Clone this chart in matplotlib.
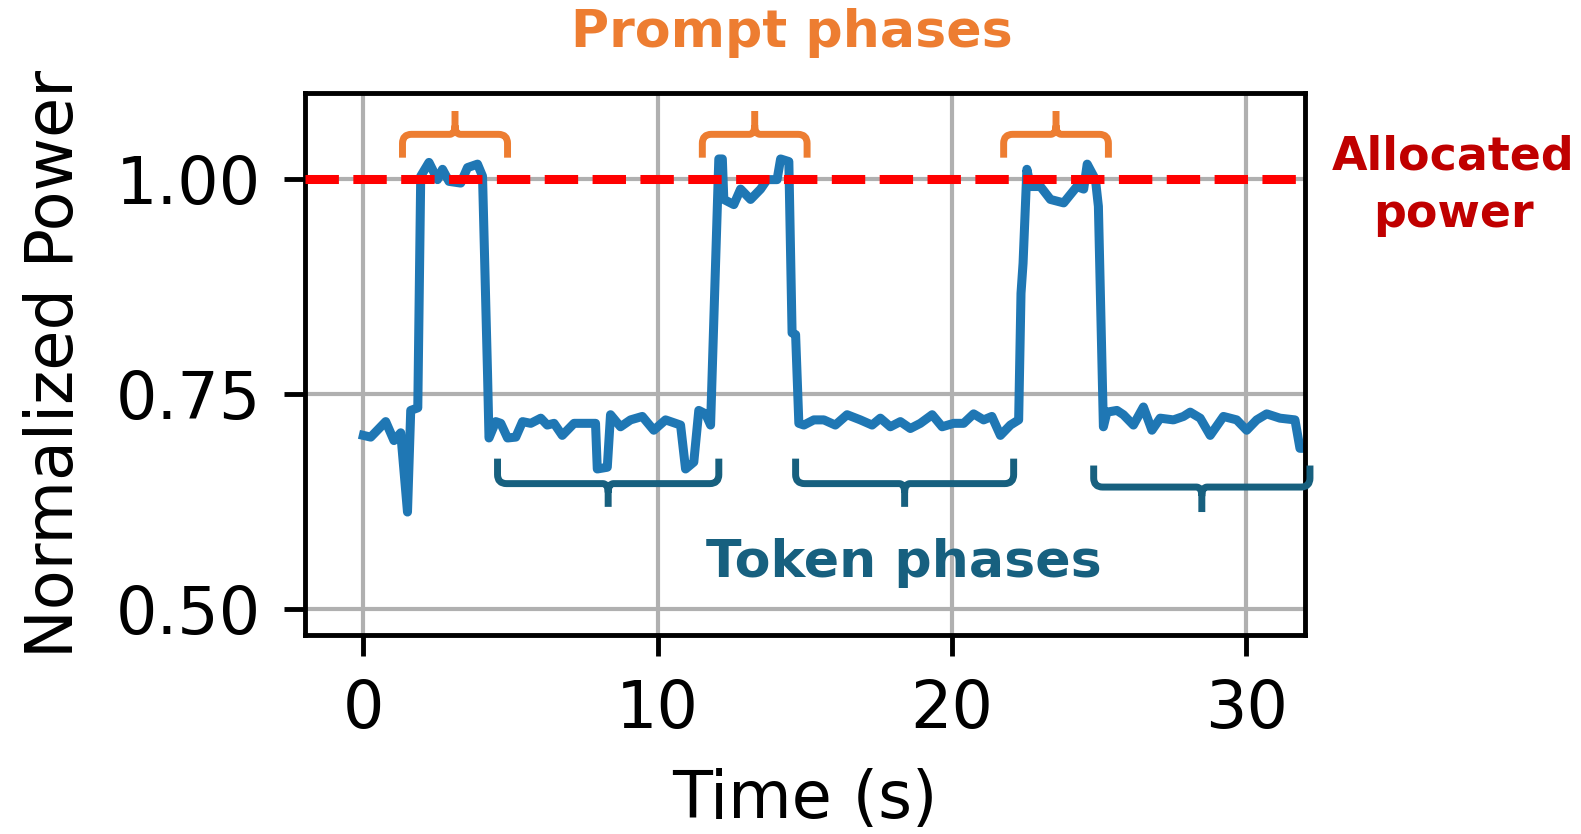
import matplotlib.pyplot as plt
from matplotlib.path import Path
from matplotlib.patches import PathPatch

# power trace
time_s = [0, 0.25, 0.76, 1.04, 1.27, 1.50, 1.61, 1.85, 1.95, 2.23, 2.52, 2.69, 2.91,
          3.31, 3.54, 3.88, 4.05, 4.22, 4.27, 4.50, 4.67, 4.90, 5.18, 5.41, 5.69,
          6.03, 6.25, 6.48, 6.76, 7.16, 7.89, 7.95, 8.29, 8.40, 8.74, 9.08, 9.48,
          9.87, 10.27, 10.78, 10.95, 11.23, 11.40, 11.63, 11.80, 12.08, 12.20,
          12.25, 12.59, 12.82, 13.16, 13.50, 13.72, 14.06, 14.18, 14.46, 14.57,
          14.69, 14.80, 14.97, 15.31, 15.65, 16.04, 16.44, 16.89, 17.29, 17.57,
          17.91, 18.25, 18.59, 18.93, 19.33, 19.67, 20.06, 20.40, 20.74, 21.08,
          21.36, 21.65, 21.99, 22.27, 22.35, 22.42, 22.55, 22.67, 23.01, 23.35,
          23.80, 24.25, 24.48, 24.60, 24.88, 24.98, 25.15, 25.27, 25.61, 25.83,
          26.17, 26.51, 26.80, 27.08, 27.53, 27.87, 28.10, 28.44, 28.78, 29.23,
          29.68, 30.02, 30.36, 30.70, 31.15, 31.66, 31.83, 32.0]
power = [0.702, 0.700, 0.718, 0.696, 0.705, 0.613, 0.731, 0.734, 1.003, 1.019, 0.999, 1.011, 0.997,
         0.995, 1.013, 1.017, 1.003, 0.774, 0.699, 0.718, 0.716, 0.699, 0.700, 0.718, 0.716,
         0.722, 0.714, 0.716, 0.702, 0.716, 0.716, 0.663, 0.665, 0.726, 0.712, 0.720, 0.724,
         0.708, 0.720, 0.714, 0.663, 0.671, 0.731, 0.727, 0.714, 1.023, 1.023,
         0.976, 0.970, 0.988, 0.976, 0.988, 0.999, 0.999, 1.023, 1.020, 0.821,
         0.819, 0.716, 0.714, 0.720, 0.720, 0.714, 0.726, 0.720, 0.714, 0.722,
         0.712, 0.718, 0.710, 0.716, 0.726, 0.712, 0.716, 0.716, 0.727, 0.720,
         0.724, 0.702, 0.714, 0.720, 0.867, 0.902, 1.011, 0.991, 0.991, 0.976,
         0.972, 0.991, 0.988, 1.017, 0.999, 0.968, 0.712, 0.729, 0.731, 0.726,
         0.714, 0.735, 0.708, 0.722, 0.720, 0.724, 0.729, 0.722, 0.702, 0.724,
         0.720, 0.708, 0.720, 0.727, 0.722, 0.720, 0.687, 0.687]

allocated = 1.0
x_ticks = [0, 10, 20, 30]
y_ticks = [0.50, 0.75, 1.00]

# brace spans (start, end) in seconds
prompt_spans = [(1.33, 4.90), (11.52, 15.08), (21.76, 25.32)]
token_spans = [(4.56, 12.08), (14.69, 22.10), (24.82, 32.17)]

orange = '#ED7D31'
teal = '#17607F'
dark_red = '#C00000'


def draw_brace(ax, x0, x1, y_tip, y_line, y_nib, color):
    rx = 9 / 29.45
    ry = 9 / 858.7 * (1 if y_line > y_tip else -1)
    xc = (x0 + x1) / 2
    sy = 1 if y_nib > y_line else -1
    verts = [(x0, y_tip), (x0, y_line - ry), (x0, y_line), (x0 + rx, y_line),
             (xc - rx * 0.6, y_line), (xc, y_line), (xc, y_line + sy * abs(ry)),
             (xc, y_nib),
             (xc, y_line + sy * abs(ry)), (xc, y_line), (xc + rx * 0.6, y_line),
             (x1 - rx, y_line), (x1, y_line), (x1, y_line - ry), (x1, y_tip)]
    codes = [Path.MOVETO, Path.LINETO, Path.CURVE3, Path.CURVE3,
             Path.LINETO, Path.CURVE3, Path.CURVE3, Path.LINETO,
             Path.MOVETO, Path.CURVE3, Path.CURVE3,
             Path.LINETO, Path.CURVE3, Path.CURVE3, Path.LINETO]
    patch = PathPatch(Path(verts, codes), fill=False, edgecolor=color, lw=5,
                      capstyle='butt', joinstyle='round', clip_on=False, zorder=5)
    ax.add_patch(patch)


fig = plt.figure(figsize=(15.81, 8.34), dpi=100)
ax = fig.add_axes([0.1926, 0.2384, 0.6328, 0.6505])

ax.plot(time_s, power, color='#1f77b4', lw=6.5, zorder=2)
ax.axhline(allocated, color='red', ls='--', lw=6.5, zorder=3)

ax.set_xlim(-2, 32)
ax.set_ylim(0.47, 1.10)
ax.set_xticks(x_ticks)
ax.set_yticks(y_ticks)
ax.set_yticklabels(['%.2f' % v for v in y_ticks])
ax.grid(True, color='#b0b0b0', lw=3, zorder=0)
ax.set_axisbelow(True)
ax.tick_params(labelsize=47, length=15, width=3.5, pad=16)
for s in ax.spines.values():
    s.set_linewidth(3.5)

ax.set_xlabel('Time (s)', fontsize=47)
ax.set_ylabel('Normalized Power', fontsize=47)
ax.xaxis.set_label_coords(0.5, -0.245)
ax.yaxis.set_label_coords(-0.217, 0.5)

for a, b in prompt_spans:
    draw_brace(ax, a, b, 1.0245, 1.0516, 1.0787, orange)
for i, (a, b) in enumerate(token_spans):
    if i < 2:
        draw_brace(ax, a, b, 0.675, 0.646, 0.619, teal)
    else:
        draw_brace(ax, a, b, 0.667, 0.642, 0.613, teal)

fig.text(0.501, 0.944, 'Prompt phases', color=orange, fontsize=37.5,
         fontweight='bold', ha='center', va='baseline')
fig.text(0.572, 0.3085, 'Token phases', color=teal, fontsize=37.5,
         fontweight='bold', ha='center', va='baseline')
fig.text(0.919, 0.777, 'Allocated\npower', color=dark_red, fontsize=33,
         fontweight='bold', ha='center', va='center', linespacing=1.35)

fig.savefig('out.png', dpi=100)
